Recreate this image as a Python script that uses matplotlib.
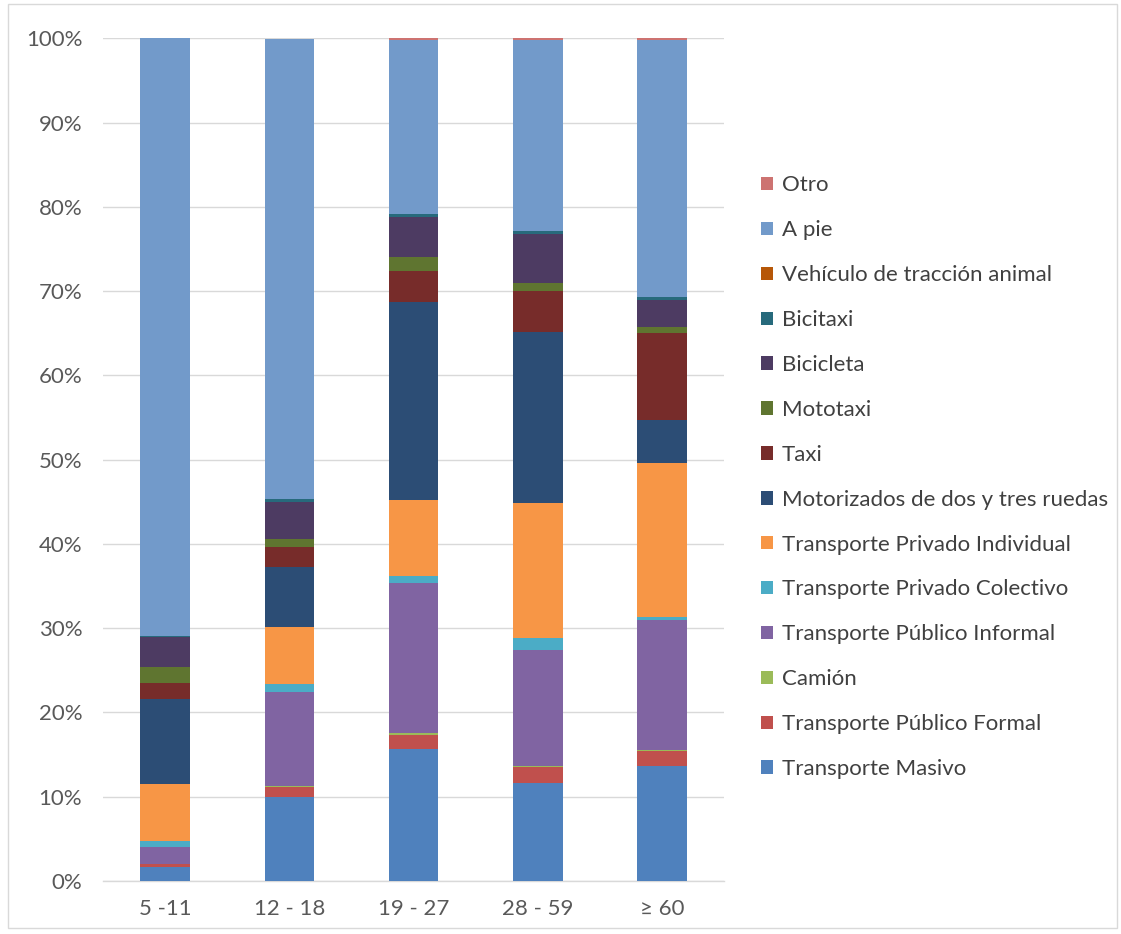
import matplotlib
matplotlib.use("Agg")
import matplotlib.pyplot as plt
import numpy as np
from matplotlib.patches import Patch

plt.rcParams['font.family'] = ['Lato', 'DejaVu Sans']

categories = ["5 -11", "12 - 18", "19 - 27", "28 - 59", "≥ 60"]

series_names = [
    "Transporte Masivo", "Transporte Público Formal", "Camión",
    "Transporte Público Informal", "Transporte Privado Colectivo",
    "Transporte Privado Individual", "Motorizados de dos y tres ruedas",
    "Taxi", "Mototaxi", "Bicicleta", "Bicitaxi",
    "Vehículo de tracción animal", "A pie", "Otro",
]

masivo      = [1.7, 10.0, 15.7, 11.6, 13.7]
formal      = [0.3, 1.15, 1.65, 1.9, 1.75]
camion      = [0.05, 0.1, 0.2, 0.15, 0.1]
informal    = [2.0, 11.15, 17.8, 13.75, 15.45]
colectivo   = [0.7, 0.95, 0.85, 1.4, 0.35]
individual  = [6.8, 6.8, 9.0, 16.1, 18.2]
motorizados = [10.0, 7.1, 23.5, 20.3, 5.15]
taxi        = [2.0, 2.4, 3.7, 4.8, 10.3]
mototaxi    = [1.8, 0.9, 1.6, 1.0, 0.7]
bicicleta   = [3.6, 4.4, 4.8, 5.75, 3.3]
bicitaxi    = [0.1, 0.35, 0.3, 0.35, 0.3]
traccion    = [0.0, 0.0, 0.05, 0.05, 0.05]
a_pie       = [70.95, 54.65, 20.65, 22.65, 30.45]
otro        = [0.0, 0.0, 0.2, 0.2, 0.2]

series_values = [masivo, formal, camion, informal, colectivo, individual,
                 motorizados, taxi, mototaxi, bicicleta, bicitaxi, traccion,
                 a_pie, otro]

colors = ["#4F81BD", "#C0504D", "#9BBB59", "#8064A2", "#4BACC6", "#F79646",
          "#2C4D75", "#772C2A", "#5F7530", "#4D3B62", "#276A7C", "#B65708",
          "#729ACA", "#CD7371"]

fig = plt.figure(figsize=(11.21, 9.34), dpi=100)
fig.patch.set_facecolor("white")
ax = fig.add_axes([0.092, 0.0567, 0.554, 0.9023])

x = np.arange(len(categories))
bottom = np.zeros(len(categories))
for name, vals, c in zip(series_names, series_values, colors):
    v = np.array(vals)
    ax.bar(x, v, bottom=bottom, width=0.4, color=c, label=name, linewidth=0, zorder=3)
    bottom += v

ax.set_xlim(-0.5, len(categories) - 0.5)
ax.set_ylim(0, 100)
ax.set_yticks(np.arange(0, 101, 10))
ax.set_yticklabels([f"{t}%" for t in range(0, 101, 10)])
ax.set_xticks(x)
ax.set_xticklabels(categories)
ax.grid(axis="y", color="#D9D9D9", linewidth=1.0, zorder=0)
ax.set_axisbelow(True)
for s in ["top", "right", "left"]:
    ax.spines[s].set_visible(False)
ax.spines["bottom"].set_color("#D9D9D9")
ax.spines["bottom"].set_linewidth(1.0)
ax.tick_params(axis="both", length=0, labelsize=16, colors="#595959")
ax.tick_params(axis="x", pad=13)
ax.tick_params(axis="y", pad=15)

handles = [Patch(facecolor=c, edgecolor="none") for c in colors][::-1]
labels = series_names[::-1]
leg = fig.legend(handles, labels, loc="center left", bbox_to_anchor=(0.679, 0.489),
                 frameon=False, fontsize=16, labelspacing=1.12, handlelength=0.55,
                 handleheight=0.55, handletextpad=0.38, borderpad=0, borderaxespad=0)
for t in leg.get_texts():
    t.set_color("#404040")

# thin figure border
fig.add_artist(plt.Rectangle((0.007, 0.006), 0.989, 0.99, transform=fig.transFigure,
                             fill=False, edgecolor="#D9D9D9", linewidth=1.0))

fig.savefig("out.png", dpi=100)
